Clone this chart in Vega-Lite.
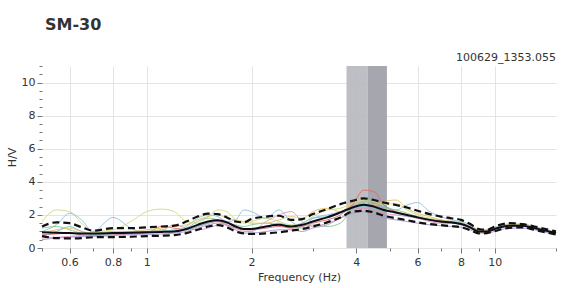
{
  "$schema": "https://vega.github.io/schema/vega-lite/v6.json",
  "width": 514,
  "height": 182,
  "autosize": {"type": "none"},
  "padding": {"left": 42, "top": 66, "right": 5, "bottom": 40},
  "background": "white",
  "title": {"text": "SM-30", "anchor": "start", "frame": "group", "fontSize": 16, "font": "DejaVu Sans", "fontWeight": "bold", "color": "#333333", "offset": 19, "dx": 3},
  "config": {
    "view": {"stroke": null},
    "axis": {
      "labelFont": "DejaVu Sans", "labelFontSize": 11, "labelColor": "#333333", "labelOverlap": false,
      "titleFont": "DejaVu Sans", "titleFontSize": 11, "titleColor": "#333333", "titleFontWeight": "normal",
      "gridColor": "#e4e4e4", "tickColor": "#777777", "domain": false
    }
  },
  "datasets": {
    "curves": [
      {"f":0.5,"m":0.95,"hi":1.3,"lo":0.72,"c1":1.6,"c2":1.0,"c3":0.8,"c4":0.6,"c5":0.5,"c6":1.2,"c7":0.9,"c8":0.7},
      {"f":0.55,"m":0.92,"hi":1.55,"lo":0.6,"c1":2.3,"c2":1.4,"c3":0.85,"c4":0.65,"c5":0.6,"c6":1.3,"c7":1.1,"c8":1.0},
      {"f":0.6,"m":0.9,"hi":1.5,"lo":0.58,"c1":2.2,"c2":2.1,"c3":0.9,"c4":0.7,"c5":0.65,"c6":1.1,"c7":1.2,"c8":1.3},
      {"f":0.65,"m":0.88,"hi":1.25,"lo":0.6,"c1":1.5,"c2":1.7,"c3":0.8,"c4":0.75,"c5":0.7,"c6":0.9,"c7":1.0,"c8":1.0},
      {"f":0.7,"m":0.88,"hi":1.05,"lo":0.65,"c1":1.0,"c2":1.0,"c3":0.75,"c4":0.8,"c5":0.7,"c6":0.85,"c7":0.9,"c8":0.8},
      {"f":0.8,"m":0.9,"hi":1.2,"lo":0.66,"c1":1.1,"c2":1.85,"c3":0.8,"c4":0.85,"c5":0.75,"c6":0.9,"c7":1.0,"c8":0.85},
      {"f":0.9,"m":0.92,"hi":1.2,"lo":0.68,"c1":1.6,"c2":1.2,"c3":0.85,"c4":0.9,"c5":0.8,"c6":1.0,"c7":1.0,"c8":0.9},
      {"f":1.0,"m":0.95,"hi":1.25,"lo":0.72,"c1":2.2,"c2":0.9,"c3":0.9,"c4":1.0,"c5":0.8,"c6":1.0,"c7":1.1,"c8":0.95},
      {"f":1.1,"m":0.97,"hi":1.3,"lo":0.74,"c1":2.35,"c2":1.0,"c3":1.3,"c4":1.05,"c5":0.85,"c6":1.1,"c7":1.2,"c8":1.0},
      {"f":1.2,"m":1.0,"hi":1.35,"lo":0.78,"c1":2.2,"c2":1.1,"c3":1.2,"c4":1.4,"c5":0.9,"c6":1.0,"c7":1.3,"c8":1.05},
      {"f":1.3,"m":1.15,"hi":1.6,"lo":0.9,"c1":1.6,"c2":1.3,"c3":1.1,"c4":1.2,"c5":1.0,"c6":1.2,"c7":1.4,"c8":1.1},
      {"f":1.4,"m":1.4,"hi":1.9,"lo":1.1,"c1":1.5,"c2":1.8,"c3":1.3,"c4":1.1,"c5":1.2,"c6":1.6,"c7":1.7,"c8":1.3},
      {"f":1.5,"m":1.6,"hi":2.08,"lo":1.3,"c1":1.9,"c2":2.0,"c3":1.5,"c4":1.2,"c5":1.4,"c6":1.8,"c7":1.9,"c8":1.5},
      {"f":1.6,"m":1.68,"hi":2.05,"lo":1.38,"c1":2.3,"c2":1.9,"c3":1.6,"c4":1.4,"c5":1.5,"c6":1.7,"c7":2.0,"c8":1.65},
      {"f":1.7,"m":1.55,"hi":1.85,"lo":1.25,"c1":2.2,"c2":1.6,"c3":1.4,"c4":1.5,"c5":1.35,"c6":1.5,"c7":1.8,"c8":1.5},
      {"f":1.8,"m":1.3,"hi":1.6,"lo":1.0,"c1":1.7,"c2":1.7,"c3":1.2,"c4":1.2,"c5":1.1,"c6":1.4,"c7":1.7,"c8":1.3},
      {"f":1.9,"m":1.15,"hi":1.55,"lo":0.88,"c1":1.5,"c2":2.3,"c3":1.1,"c4":1.0,"c5":0.9,"c6":1.3,"c7":1.6,"c8":1.15},
      {"f":2.0,"m":1.15,"hi":1.75,"lo":0.85,"c1":1.6,"c2":2.2,"c3":1.1,"c4":1.0,"c5":0.9,"c6":1.4,"c7":1.5,"c8":1.1},
      {"f":2.2,"m":1.3,"hi":1.9,"lo":0.88,"c1":1.8,"c2":1.8,"c3":1.2,"c4":1.6,"c5":1.0,"c6":1.5,"c7":1.5,"c8":1.3},
      {"f":2.4,"m":1.4,"hi":1.95,"lo":0.95,"c1":1.6,"c2":2.3,"c3":1.3,"c4":2.0,"c5":1.1,"c6":1.4,"c7":1.7,"c8":1.5},
      {"f":2.6,"m":1.3,"hi":1.7,"lo":1.05,"c1":1.4,"c2":1.6,"c3":1.2,"c4":2.2,"c5":1.1,"c6":1.3,"c7":1.9,"c8":1.3},
      {"f":2.8,"m":1.4,"hi":1.75,"lo":1.15,"c1":1.5,"c2":1.3,"c3":1.3,"c4":1.6,"c5":1.0,"c6":1.2,"c7":1.8,"c8":1.5},
      {"f":3.0,"m":1.6,"hi":2.05,"lo":1.3,"c1":1.9,"c2":1.8,"c3":1.5,"c4":1.3,"c5":1.2,"c6":1.4,"c7":2.2,"c8":1.8},
      {"f":3.3,"m":1.85,"hi":2.35,"lo":1.55,"c1":2.3,"c2":2.0,"c3":1.7,"c4":1.5,"c5":1.4,"c6":1.3,"c7":2.4,"c8":1.9},
      {"f":3.6,"m":2.15,"hi":2.65,"lo":1.85,"c1":2.4,"c2":2.2,"c3":2.0,"c4":1.8,"c5":1.8,"c6":1.5,"c7":2.2,"c8":2.1},
      {"f":3.9,"m":2.45,"hi":2.85,"lo":2.2,"c1":2.7,"c2":2.5,"c3":2.6,"c4":2.3,"c5":2.1,"c6":2.4,"c7":2.7,"c8":2.4},
      {"f":4.2,"m":2.62,"hi":3.0,"lo":2.25,"c1":2.9,"c2":2.6,"c3":3.5,"c4":2.4,"c5":2.2,"c6":2.8,"c7":3.0,"c8":2.5},
      {"f":4.5,"m":2.5,"hi":2.9,"lo":2.15,"c1":2.8,"c2":2.4,"c3":3.4,"c4":2.3,"c5":1.9,"c6":2.9,"c7":2.6,"c8":2.4},
      {"f":4.8,"m":2.3,"hi":2.75,"lo":1.95,"c1":2.6,"c2":2.5,"c3":2.6,"c4":2.1,"c5":1.8,"c6":2.4,"c7":2.8,"c8":2.25},
      {"f":5.2,"m":2.15,"hi":2.6,"lo":1.8,"c1":2.7,"c2":2.3,"c3":2.2,"c4":2.0,"c5":1.7,"c6":2.3,"c7":2.9,"c8":2.1},
      {"f":5.6,"m":2.0,"hi":2.45,"lo":1.68,"c1":2.3,"c2":2.6,"c3":2.0,"c4":1.9,"c5":1.6,"c6":2.1,"c7":2.4,"c8":1.95},
      {"f":6.0,"m":1.85,"hi":2.25,"lo":1.55,"c1":2.0,"c2":2.75,"c3":1.8,"c4":1.8,"c5":1.5,"c6":1.9,"c7":2.1,"c8":1.85},
      {"f":6.5,"m":1.7,"hi":2.05,"lo":1.45,"c1":1.8,"c2":2.2,"c3":1.7,"c4":1.6,"c5":1.4,"c6":1.75,"c7":1.9,"c8":1.7},
      {"f":7.0,"m":1.6,"hi":1.9,"lo":1.38,"c1":1.7,"c2":1.9,"c3":1.55,"c4":1.5,"c5":1.35,"c6":1.65,"c7":1.7,"c8":1.6},
      {"f":7.5,"m":1.55,"hi":1.8,"lo":1.32,"c1":1.6,"c2":1.7,"c3":1.5,"c4":1.5,"c5":1.3,"c6":1.6,"c7":1.6,"c8":1.55},
      {"f":8.0,"m":1.45,"hi":1.7,"lo":1.25,"c1":1.55,"c2":1.6,"c3":1.45,"c4":1.4,"c5":1.25,"c6":1.5,"c7":1.5,"c8":1.5},
      {"f":8.5,"m":1.25,"hi":1.45,"lo":1.08,"c1":1.3,"c2":1.4,"c3":1.25,"c4":1.2,"c5":1.1,"c6":1.3,"c7":1.35,"c8":1.3},
      {"f":9.0,"m":1.0,"hi":1.15,"lo":0.88,"c1":1.05,"c2":1.1,"c3":1.0,"c4":0.95,"c5":0.9,"c6":1.05,"c7":1.1,"c8":1.0},
      {"f":9.5,"m":1.0,"hi":1.1,"lo":0.9,"c1":1.05,"c2":1.1,"c3":1.0,"c4":0.95,"c5":0.9,"c6":1.05,"c7":1.05,"c8":1.0},
      {"f":10,"m":1.15,"hi":1.3,"lo":1.02,"c1":1.2,"c2":1.25,"c3":1.15,"c4":1.1,"c5":1.0,"c6":1.2,"c7":1.2,"c8":1.15},
      {"f":11,"m":1.35,"hi":1.5,"lo":1.22,"c1":1.4,"c2":1.45,"c3":1.35,"c4":1.3,"c5":1.2,"c6":1.4,"c7":1.4,"c8":1.35},
      {"f":12,"m":1.35,"hi":1.45,"lo":1.25,"c1":1.4,"c2":1.4,"c3":1.35,"c4":1.3,"c5":1.2,"c6":1.45,"c7":1.4,"c8":1.35},
      {"f":13,"m":1.2,"hi":1.3,"lo":1.1,"c1":1.25,"c2":1.25,"c3":1.2,"c4":1.15,"c5":1.1,"c6":1.3,"c7":1.25,"c8":1.2},
      {"f":14,"m":1.05,"hi":1.15,"lo":0.95,"c1":1.1,"c2":1.1,"c3":1.05,"c4":1.0,"c5":0.95,"c6":1.1,"c7":1.1,"c8":1.05},
      {"f":15,"m":0.9,"hi":1.0,"lo":0.82,"c1":0.95,"c2":0.95,"c3":0.9,"c4":0.85,"c5":0.8,"c6":0.95,"c7":0.95,"c8":0.9}
    ],
    "bands": [
      {"f0": 3.75, "f1": 4.31, "shade": "light"},
      {"f0": 4.31, "f1": 4.9, "shade": "dark"}
    ],
    "stamp": [{"f": 15, "v": 11.5, "t": "100629_1353.055"}]
  },
  "layer": [
    {
      "data": {"name": "bands"},
      "transform": [{"filter": "datum.shade == 'light'"}],
      "mark": {"type": "rect", "color": "#b7b8bf", "opacity": 0.9},
      "encoding": {
        "x": {"field": "f0", "type": "quantitative", "scale": {"type": "log", "domain": [0.5, 15], "nice": false},
          "title": "Frequency (Hz)",
          "axis": {
            "values": [0.5,0.6,0.7,0.8,0.9,1,2,3,4,5,6,7,8,9,10,15],
            "tickCount": 100,
            "labelExpr": "indexof([0.6,0.8,1,2,4,6,8,10], datum.value) >= 0 ? format(datum.value, '~g') : ''",
            "gridOpacity": {"condition": {"test": "indexof([0.6,0.8,1,2,4,6,8,10], datum.value) >= 0", "value": 1}, "value": 0},
            "tickSize": {"condition": {"test": "indexof([0.6,0.8,1,2,4,6,8,10], datum.value) >= 0", "value": 5}, "value": 3},
            "labelPadding": 3,
            "titlePadding": 4,
            "labelOverlap": false,
            "labelFlush": false
          }
        },
        "x2": {"field": "f1"}
      }
    },
    {
      "data": {"name": "bands"},
      "transform": [{"filter": "datum.shade == 'dark'"}],
      "mark": {"type": "rect", "color": "#9c9da5", "opacity": 0.9},
      "encoding": {
        "x": {"field": "f0", "type": "quantitative"},
        "x2": {"field": "f1"}
      }
    },
    {
      "data": {"name": "curves"},
      "transform": [{"fold": ["c1","c2","c3","c4","c5","c6","c7","c8"], "as": ["win", "hv"]}],
      "mark": {"type": "line", "strokeWidth": 1, "opacity": 0.9, "interpolate": "monotone"},
      "encoding": {
        "x": {"field": "f", "type": "quantitative"},
        "y": {"field": "hv", "type": "quantitative", "scale": {"domain": [0, 11], "nice": false}, "title": "H/V",
          "axis": {
            "values": [0,0.5,1,1.5,2,2.5,3,3.5,4,4.5,5,5.5,6,6.5,7,7.5,8,8.5,9,9.5,10,10.5,11],
            "tickCount": 100,
            "labelExpr": "datum.value % 2 == 0 ? format(datum.value, 'd') : ''",
            "gridOpacity": {"condition": {"test": "datum.value % 2 == 0", "value": 1}, "value": 0},
            "tickSize": {"condition": {"test": "datum.value % 2 == 0", "value": 5}, "value": 3},
            "labelOverlap": false,
            "labelPadding": 2,
            "titlePadding": 4
          }
        },
        "detail": {"field": "win"},
        "color": {"field": "win", "type": "nominal", "legend": null,
          "scale": {"domain": ["c1","c2","c3","c4","c5","c6","c7","c8"], "range": ["#cbdc80", "#8fbfdb", "#e06868", "#e093bd", "#a596d6", "#86c886", "#e8c060", "#74c4c4"]}}
      }
    },
    {
      "data": {"name": "curves"},
      "mark": {"type": "line", "color": "#111111", "strokeWidth": 2.2, "strokeDash": [7, 4], "interpolate": "monotone"},
      "encoding": {"x": {"field": "f", "type": "quantitative"}, "y": {"field": "hi", "type": "quantitative"}}
    },
    {
      "data": {"name": "curves"},
      "mark": {"type": "line", "color": "#111111", "strokeWidth": 2.2, "strokeDash": [7, 4], "interpolate": "monotone"},
      "encoding": {"x": {"field": "f", "type": "quantitative"}, "y": {"field": "lo", "type": "quantitative"}}
    },
    {
      "data": {"name": "curves"},
      "mark": {"type": "line", "color": "#0d0d1a", "strokeWidth": 2, "interpolate": "monotone"},
      "encoding": {"x": {"field": "f", "type": "quantitative"}, "y": {"field": "m", "type": "quantitative"}}
    },
    {
      "data": {"name": "stamp"},
      "mark": {"type": "text", "align": "right", "baseline": "middle", "font": "DejaVu Sans", "fontSize": 11, "color": "#333333"},
      "encoding": {"x": {"field": "f", "type": "quantitative"}, "y": {"field": "v", "type": "quantitative"}, "text": {"field": "t"}}
    }
  ]
}
